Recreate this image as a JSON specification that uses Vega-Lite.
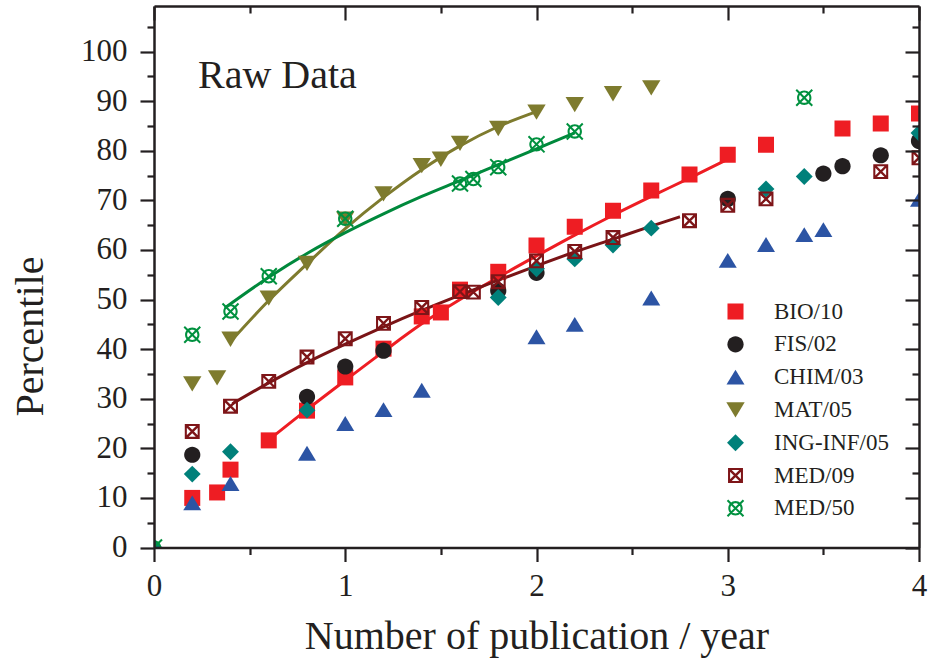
{
  "$schema": "https://vega.github.io/schema/vega-lite/v6.json",
  "width": 765,
  "height": 541.5,
  "autosize": {"type": "none"},
  "padding": {"left": 154, "top": 6, "right": 9, "bottom": 114.5},
  "background": "white",
  "config": {"view": {"stroke": null}, "font": "Liberation Serif"},
  "datasets": {
    "points": [
      {"series": "BIO/10", "x": 0.2, "y": 10},
      {"series": "BIO/10", "x": 0.33, "y": 11.1},
      {"series": "BIO/10", "x": 0.4, "y": 15.7},
      {"series": "BIO/10", "x": 0.6, "y": 21.6},
      {"series": "BIO/10", "x": 0.8, "y": 27.6},
      {"series": "BIO/10", "x": 1.0, "y": 34.3},
      {"series": "BIO/10", "x": 1.2, "y": 40.1},
      {"series": "BIO/10", "x": 1.4, "y": 46.6},
      {"series": "BIO/10", "x": 1.5, "y": 47.4},
      {"series": "BIO/10", "x": 1.6, "y": 52},
      {"series": "BIO/10", "x": 1.8, "y": 55.6},
      {"series": "BIO/10", "x": 2.0, "y": 60.9},
      {"series": "BIO/10", "x": 2.2, "y": 64.7},
      {"series": "BIO/10", "x": 2.4, "y": 67.9},
      {"series": "BIO/10", "x": 2.6, "y": 72},
      {"series": "BIO/10", "x": 2.8, "y": 75.2},
      {"series": "BIO/10", "x": 3.0, "y": 79.2},
      {"series": "BIO/10", "x": 3.2, "y": 81.2},
      {"series": "BIO/10", "x": 3.6, "y": 84.5},
      {"series": "BIO/10", "x": 3.8, "y": 85.5},
      {"series": "BIO/10", "x": 4.0, "y": 87.5},
      {"series": "FIS/02", "x": 0.2, "y": 18.7},
      {"series": "FIS/02", "x": 0.8, "y": 30.4},
      {"series": "FIS/02", "x": 1.0, "y": 36.5},
      {"series": "FIS/02", "x": 1.2, "y": 39.7},
      {"series": "FIS/02", "x": 1.8, "y": 51.8},
      {"series": "FIS/02", "x": 2.0, "y": 55.4},
      {"series": "FIS/02", "x": 3.0, "y": 70.3},
      {"series": "FIS/02", "x": 3.5, "y": 75.4},
      {"series": "FIS/02", "x": 3.6, "y": 76.9},
      {"series": "FIS/02", "x": 3.8, "y": 79.1},
      {"series": "FIS/02", "x": 4.0, "y": 82},
      {"series": "CHIM/03", "x": 0.2, "y": 9},
      {"series": "CHIM/03", "x": 0.4, "y": 12.9},
      {"series": "CHIM/03", "x": 0.8, "y": 19},
      {"series": "CHIM/03", "x": 1.0, "y": 25},
      {"series": "CHIM/03", "x": 1.2, "y": 27.8},
      {"series": "CHIM/03", "x": 1.4, "y": 31.7},
      {"series": "CHIM/03", "x": 2.0, "y": 42.5},
      {"series": "CHIM/03", "x": 2.2, "y": 45},
      {"series": "CHIM/03", "x": 2.6, "y": 50.3},
      {"series": "CHIM/03", "x": 3.0, "y": 57.9},
      {"series": "CHIM/03", "x": 3.2, "y": 61.1},
      {"series": "CHIM/03", "x": 3.4, "y": 63.1},
      {"series": "CHIM/03", "x": 3.5, "y": 64.1},
      {"series": "CHIM/03", "x": 4.0, "y": 70.2},
      {"series": "MAT/05", "x": 0.2, "y": 33},
      {"series": "MAT/05", "x": 0.33, "y": 34.2},
      {"series": "MAT/05", "x": 0.4, "y": 42},
      {"series": "MAT/05", "x": 0.6, "y": 50.3},
      {"series": "MAT/05", "x": 0.8, "y": 57.3},
      {"series": "MAT/05", "x": 1.0, "y": 66.2},
      {"series": "MAT/05", "x": 1.2, "y": 71.3},
      {"series": "MAT/05", "x": 1.4, "y": 77},
      {"series": "MAT/05", "x": 1.5, "y": 78.3},
      {"series": "MAT/05", "x": 1.6, "y": 81.5},
      {"series": "MAT/05", "x": 1.8, "y": 84.5},
      {"series": "MAT/05", "x": 2.0, "y": 87.8},
      {"series": "MAT/05", "x": 2.2, "y": 89.3},
      {"series": "MAT/05", "x": 2.4, "y": 91.5},
      {"series": "MAT/05", "x": 2.6, "y": 92.7},
      {"series": "ING-INF/05", "x": 0, "y": 0},
      {"series": "ING-INF/05", "x": 0.2, "y": 14.8},
      {"series": "ING-INF/05", "x": 0.4, "y": 19.3},
      {"series": "ING-INF/05", "x": 0.8, "y": 27.7},
      {"series": "ING-INF/05", "x": 1.8, "y": 50.4},
      {"series": "ING-INF/05", "x": 2.0, "y": 56.2},
      {"series": "ING-INF/05", "x": 2.2, "y": 58.2},
      {"series": "ING-INF/05", "x": 2.4, "y": 61},
      {"series": "ING-INF/05", "x": 2.6, "y": 64.4},
      {"series": "ING-INF/05", "x": 3.2, "y": 72.3},
      {"series": "ING-INF/05", "x": 3.4, "y": 74.8},
      {"series": "ING-INF/05", "x": 4.0, "y": 83.6},
      {"series": "MED/09", "x": 0.2, "y": 23.4},
      {"series": "MED/09", "x": 0.4, "y": 28.5},
      {"series": "MED/09", "x": 0.6, "y": 33.5},
      {"series": "MED/09", "x": 0.8, "y": 38.4},
      {"series": "MED/09", "x": 1.0, "y": 42.1},
      {"series": "MED/09", "x": 1.2, "y": 45.2},
      {"series": "MED/09", "x": 1.4, "y": 48.4},
      {"series": "MED/09", "x": 1.6, "y": 51.6},
      {"series": "MED/09", "x": 1.67, "y": 51.5},
      {"series": "MED/09", "x": 1.8, "y": 53.6},
      {"series": "MED/09", "x": 2.0, "y": 57.8},
      {"series": "MED/09", "x": 2.2, "y": 59.7},
      {"series": "MED/09", "x": 2.4, "y": 62.5},
      {"series": "MED/09", "x": 2.8, "y": 65.9},
      {"series": "MED/09", "x": 3.0, "y": 69},
      {"series": "MED/09", "x": 3.2, "y": 70.3},
      {"series": "MED/09", "x": 3.8, "y": 75.8},
      {"series": "MED/09", "x": 4.0, "y": 78.6},
      {"series": "MED/50", "x": 0, "y": 0},
      {"series": "MED/50", "x": 0.2, "y": 42.9},
      {"series": "MED/50", "x": 0.4, "y": 47.6},
      {"series": "MED/50", "x": 0.6, "y": 54.7},
      {"series": "MED/50", "x": 1.0, "y": 66.3},
      {"series": "MED/50", "x": 1.6, "y": 73.4},
      {"series": "MED/50", "x": 1.67, "y": 74.3},
      {"series": "MED/50", "x": 1.8, "y": 76.7},
      {"series": "MED/50", "x": 2.0, "y": 81.3},
      {"series": "MED/50", "x": 2.2, "y": 83.9},
      {"series": "MED/50", "x": 3.4, "y": 90.7}
    ],
    "fits": [
      {"series": "BIO/10", "x": 0.61, "y": 22},
      {"series": "BIO/10", "x": 0.8, "y": 27.8},
      {"series": "BIO/10", "x": 1.0, "y": 33.7},
      {"series": "BIO/10", "x": 1.2, "y": 39.5},
      {"series": "BIO/10", "x": 1.4, "y": 45.1},
      {"series": "BIO/10", "x": 1.6, "y": 50},
      {"series": "BIO/10", "x": 1.8, "y": 54.5},
      {"series": "BIO/10", "x": 2.0, "y": 58.8},
      {"series": "BIO/10", "x": 2.2, "y": 63},
      {"series": "BIO/10", "x": 2.4, "y": 67},
      {"series": "BIO/10", "x": 2.6, "y": 70.8},
      {"series": "BIO/10", "x": 2.8, "y": 74.5},
      {"series": "BIO/10", "x": 3.0, "y": 78.3},
      {"series": "MAT/05", "x": 0.4, "y": 41.5},
      {"series": "MAT/05", "x": 0.6, "y": 49.8},
      {"series": "MAT/05", "x": 0.8, "y": 57.2},
      {"series": "MAT/05", "x": 1.0, "y": 64.3},
      {"series": "MAT/05", "x": 1.2, "y": 70.6},
      {"series": "MAT/05", "x": 1.4, "y": 76.2},
      {"series": "MAT/05", "x": 1.6, "y": 81},
      {"series": "MAT/05", "x": 1.8, "y": 84.9},
      {"series": "MAT/05", "x": 2.0, "y": 87.9},
      {"series": "MED/09", "x": 0.41, "y": 29},
      {"series": "MED/09", "x": 0.6, "y": 33.2},
      {"series": "MED/09", "x": 0.8, "y": 37.3},
      {"series": "MED/09", "x": 1.0, "y": 41},
      {"series": "MED/09", "x": 1.2, "y": 44.5},
      {"series": "MED/09", "x": 1.4, "y": 47.8},
      {"series": "MED/09", "x": 1.6, "y": 50.9},
      {"series": "MED/09", "x": 1.8, "y": 53.9},
      {"series": "MED/09", "x": 2.0, "y": 56.8},
      {"series": "MED/09", "x": 2.2, "y": 59.6},
      {"series": "MED/09", "x": 2.4, "y": 62.2},
      {"series": "MED/09", "x": 2.6, "y": 64.8},
      {"series": "MED/09", "x": 2.75, "y": 66.7},
      {"series": "MED/50", "x": 0.37, "y": 48.3},
      {"series": "MED/50", "x": 0.6, "y": 54.5},
      {"series": "MED/50", "x": 0.8, "y": 59.3},
      {"series": "MED/50", "x": 1.0, "y": 63.5},
      {"series": "MED/50", "x": 1.2, "y": 67.3},
      {"series": "MED/50", "x": 1.4, "y": 70.8},
      {"series": "MED/50", "x": 1.6, "y": 74},
      {"series": "MED/50", "x": 1.8, "y": 77.2},
      {"series": "MED/50", "x": 2.0, "y": 80.4},
      {"series": "MED/50", "x": 2.2, "y": 83.6}
    ],
    "label": [{"x": 0.23, "y": 92.7, "text": "Raw Data"}]
  },
  "layer": [
    {
      "data": {"name": "fits"},
      "mark": {"type": "line", "strokeWidth": 3, "interpolate": "monotone", "clip": true},
      "encoding": {
        "x": {
          "field": "x", "type": "quantitative",
          "scale": {"domain": [0, 4], "nice": false, "zero": false},
          "axis": {
            "orient": "top", "title": null, "labels": false, "grid": false, "zindex": 2,
            "values": [0, 0.5, 1, 1.5, 2, 2.5, 3, 3.5, 4],
            "tickSize": {"condition": {"test": "datum.value % 1 === 0", "value": -14}, "value": -7},
            "domainColor": "#231F20", "domainWidth": 2.5, "tickColor": "#231F20", "tickWidth": 2.2
          }
        },
        "y": {
          "field": "y", "type": "quantitative",
          "scale": {"domain": [0, 109.2], "nice": false, "zero": true},
          "axis": {
            "orient": "right", "title": null, "labels": false, "grid": false, "zindex": 2,
            "values": [0, 5, 10, 15, 20, 25, 30, 35, 40, 45, 50, 55, 60, 65, 70, 75, 80, 85, 90, 95, 100, 105],
            "tickSize": {"condition": {"test": "datum.value % 10 === 0", "value": -14}, "value": -7},
            "domainColor": "#231F20", "domainWidth": 2.5, "tickColor": "#231F20", "tickWidth": 2.2
          }
        },
        "stroke": {
          "field": "series", "type": "nominal",
          "scale": {"domain": ["BIO/10", "MAT/05", "MED/09", "MED/50"], "range": ["#EE1D23", "#7E7B2E", "#7A1416", "#00893C"]},
          "legend": null
        }
      }
    },
    {
      "data": {"name": "points"},
      "mark": {"type": "point", "filled": true, "opacity": 1, "size": 324, "strokeWidth": 0, "clip": true},
      "encoding": {
        "x": {
          "field": "x", "type": "quantitative",
          "scale": {"domain": [0, 4], "nice": false, "zero": false},
          "axis": {
            "orient": "bottom", "grid": false, "zindex": 2,
            "values": [0, 0.5, 1, 1.5, 2, 2.5, 3, 3.5, 4],
            "labelExpr": "datum.value % 1 === 0 ? format(datum.value, 'd') : ''",
            "tickSize": {"condition": {"test": "datum.value % 1 === 0", "value": 14}, "value": 7},
            "domainColor": "#231F20", "domainWidth": 2.5, "tickColor": "#231F20", "tickWidth": 2.2,
            "labelFont": "Liberation Serif", "labelFontSize": 31, "labelColor": "#231F20",
            "labelPadding": 10, "labelFlush": false, "labelOverlap": false,
            "title": "Number of publication / year",
            "titleFont": "Liberation Serif", "titleFontSize": 40, "titleFontWeight": "normal", "titleColor": "#231F20",
            "titleX": 382.5, "titleY": 101, "titleBaseline": "alphabetic", "titleAlign": "center"
          }
        },
        "y": {
          "field": "y", "type": "quantitative",
          "scale": {"domain": [0, 109.2], "nice": false, "zero": true},
          "axis": {
            "orient": "left", "grid": false, "zindex": 2,
            "values": [0, 5, 10, 15, 20, 25, 30, 35, 40, 45, 50, 55, 60, 65, 70, 75, 80, 85, 90, 95, 100, 105],
            "labelExpr": "datum.value % 10 === 0 && datum.value <= 100 ? format(datum.value, 'd') : ''",
            "tickSize": {"condition": {"test": "datum.value % 10 === 0", "value": 14}, "value": 7},
            "domainColor": "#231F20", "domainWidth": 2.5, "tickColor": "#231F20", "tickWidth": 2.2,
            "labelFont": "Liberation Serif", "labelFontSize": 31, "labelColor": "#231F20",
            "labelPadding": 13, "labelFlush": false, "labelOverlap": false,
            "title": "Percentile",
            "titleFont": "Liberation Serif", "titleFontSize": 40, "titleFontWeight": "normal", "titleColor": "#231F20",
            "titleX": -112, "titleY": 330, "titleBaseline": "alphabetic", "titleAlign": "center", "titleAngle": -90
          }
        },
        "color": {
          "field": "series", "type": "nominal",
          "scale": {
            "domain": ["BIO/10", "FIS/02", "CHIM/03", "MAT/05", "ING-INF/05", "MED/09", "MED/50"],
            "range": ["#EE1D23", "#231F20", "#2C54A4", "#7E7B2E", "#00807A", "#7E1518", "#00913F"]
          },
          "legend": {
            "orient": "none", "legendX": 570, "legendY": 294, "title": null,
            "labelFont": "Liberation Serif", "labelFontSize": 23, "labelColor": "#231F20",
            "labelOffset": 27, "rowPadding": 8.8, "symbolSize": 324, "symbolStrokeWidth": 0, "symbolOpacity": 1
          }
        },
        "shape": {
          "field": "series", "type": "nominal",
          "scale": {
            "domain": ["BIO/10", "FIS/02", "CHIM/03", "MAT/05", "ING-INF/05", "MED/09", "MED/50"],
            "range": [
              "M-0.89,-0.89H0.89V0.89H-0.89Z",
              "M0.9,0A0.9,0.9 0 1,1 -0.9,0A0.9,0.9 0 1,1 0.9,0Z",
              "M0,-0.83L1,0.83L-1,0.83Z",
              "M0,0.85L1.02,-0.85L-1.02,-0.85Z",
              "M0,-0.94L0.94,0L0,0.94L-0.94,0Z",
              "M-0.83,-0.83H0.83V0.83H-0.83Z M-0.6,-0.6V0.6H0.6V-0.6Z M-0.83,-0.64L-0.64,-0.83L0.83,0.64L0.64,0.83Z M0.64,-0.83L0.83,-0.64L-0.64,0.83L-0.83,0.64Z",
              "M0.8,0A0.8,0.8 0 1,1 -0.8,0A0.8,0.8 0 1,1 0.8,0Z M0.57,0A0.57,0.57 0 1,0 -0.57,0A0.57,0.57 0 1,0 0.57,0Z M-0.97,-0.81L-0.81,-0.97L0.97,0.81L0.81,0.97Z M0.81,-0.97L0.97,-0.81L-0.81,0.97L-0.97,0.81Z"
            ]
          },
          "legend": {
            "orient": "none", "legendX": 570, "legendY": 294, "title": null,
            "labelFont": "Liberation Serif", "labelFontSize": 23, "labelColor": "#231F20",
            "labelOffset": 27, "rowPadding": 8.8, "symbolSize": 324, "symbolStrokeWidth": 0, "symbolOpacity": 1
          }
        }
      }
    },
    {
      "data": {"name": "label"},
      "mark": {"type": "text", "align": "left", "baseline": "alphabetic", "font": "Liberation Serif", "fontSize": 40, "color": "#231F20"},
      "encoding": {
        "x": {"field": "x", "type": "quantitative", "axis": null},
        "y": {"field": "y", "type": "quantitative", "axis": null},
        "text": {"field": "text"}
      }
    }
  ],
  "resolve": {"axis": {"x": "independent", "y": "independent"}}
}
